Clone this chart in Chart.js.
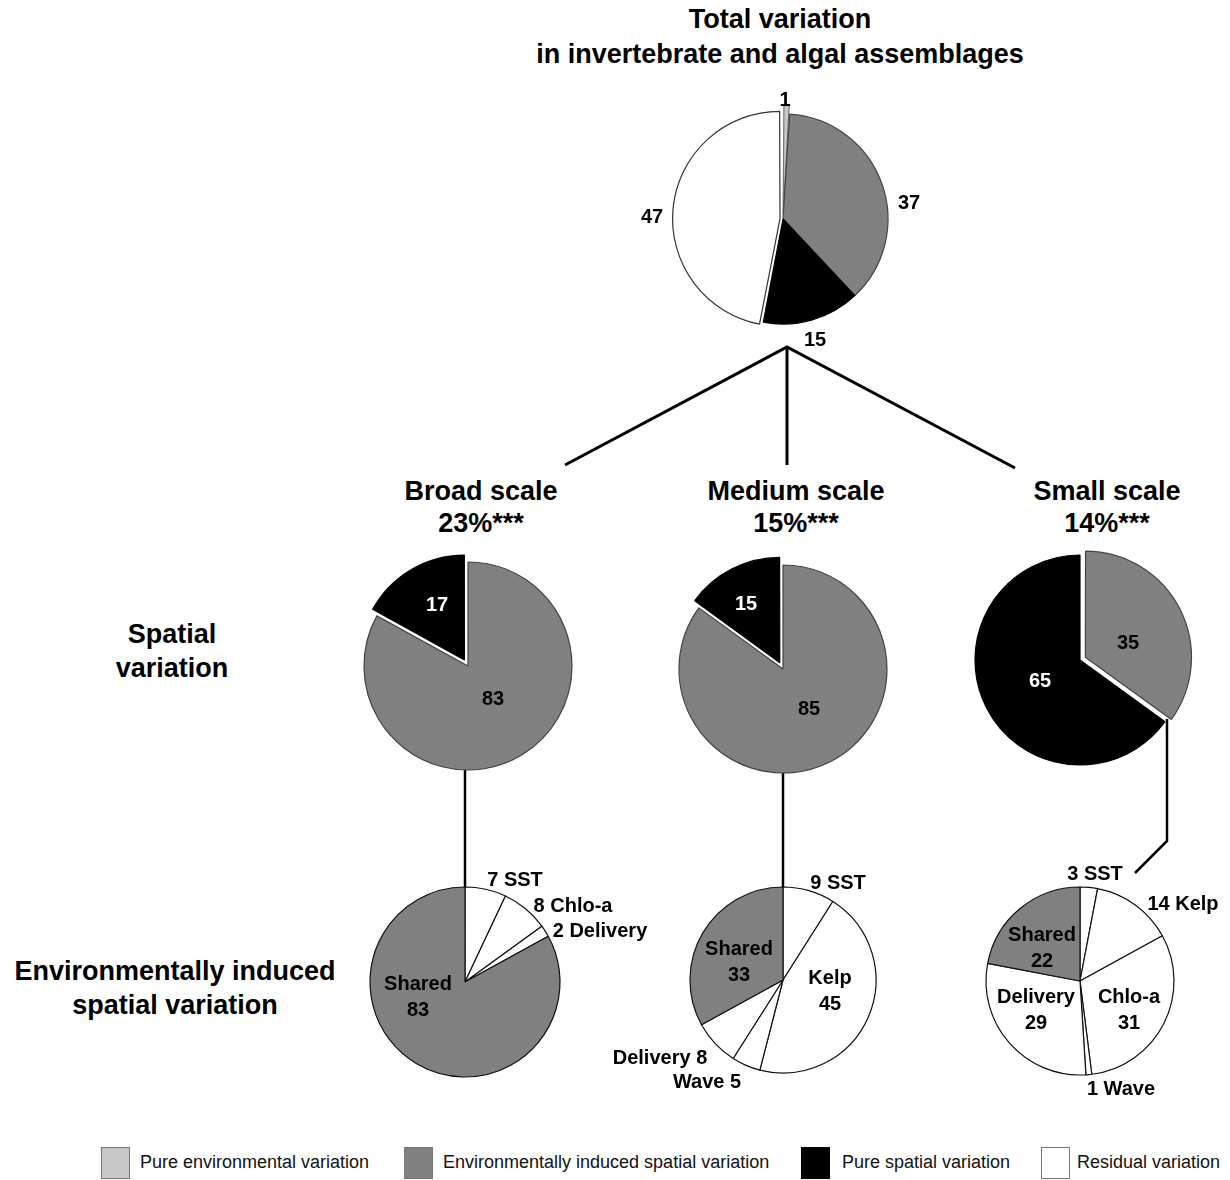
<!DOCTYPE html>
<html>
<head>
<meta charset="utf-8">
<script src="https://cdn.jsdelivr.net/npm/chart.js@4.4.1/dist/chart.umd.min.js"></script>
<style>
    html, body { margin: 0; padding: 0; background: #fff; }
    #stage {
        position: relative;
        width: 1230px;
        height: 1180px;
        overflow: hidden;
        font-family: "Liberation Sans", Arial, Helvetica, sans-serif;
        color: #000;
    }
    #links { position: absolute; left: 0; top: 0; }
    .txt {
        position: absolute;
        transform: translate(-50%, -50%);
        font-weight: bold;
        white-space: nowrap;
        text-align: center;
    }
    .legend-box {
        position: absolute;
        width: 29px;
        height: 32px;
        box-sizing: border-box;
        border: 1px solid #777;
    }
    .legend-text {
        position: absolute;
        font-size: 18px;
        white-space: nowrap;
        color: #111;
    }
</style>
</head>
<body>
<div id="stage">
    <svg id="links" width="1230" height="1180">
        <g stroke="#000" stroke-width="3" fill="none" stroke-linejoin="miter">
            <polyline points="565,465 787,347 1015,468"/>
            <line x1="787" y1="347" x2="787" y2="465"/>
        </g>
        <g stroke="#000" stroke-width="2.5" fill="none">
            <line x1="465" y1="770" x2="465" y2="889"/>
            <line x1="783" y1="772" x2="783" y2="889"/>
            <polyline points="1167,719 1167,841 1135,873"/>
        </g>
    </svg>
</div>
<script>
// ---- data ----
const categories = ['Pure environmental variation', 'Environmentally induced spatial variation', 'Pure spatial variation', 'Residual variation'];
const categoryColors = ['#c8c8c8', '#808080', '#000000', '#ffffff'];
const categoryBorders = ['#777777', '#444444', '#000000', '#333333'];

// total variation, clockwise from 12 o'clock: pure env, env-induced spatial, pure spatial, residual
const totalValues = [1, 37, 15, 47];

const scaleNames = ['Broad scale', 'Medium scale', 'Small scale'];
const scaleTotals = ['23%***', '15%***', '14%***'];

// spatial variation at each scale: [env-induced, pure spatial]
const broadSpatial = [83, 17];
const mediumSpatial = [85, 15];
const smallSpatial = [35, 65];

// environmentally induced spatial variation, clockwise from 12 o'clock
const broadEnvNames = ['SST', 'Chlo-a', 'Delivery', 'Shared'];
const broadEnvValues = [7, 8, 2, 83];
const mediumEnvNames = ['SST', 'Kelp', 'Wave', 'Delivery', 'Shared'];
const mediumEnvValues = [9, 45, 5, 8, 33];
const smallEnvNames = ['SST', 'Kelp', 'Chlo-a', 'Wave', 'Delivery', 'Shared'];
const smallEnvValues = [3, 14, 31, 1, 29, 22];

const stage = document.getElementById('stage');

/**
 * Put one pie chart on its own canvas, centred on (cx, cy)
 */
function makePie(cx, cy, r, values, colors, borders, offsets) {
    const size = 2 * Math.ceil(r + 14);
    const canvas = document.createElement('canvas');
    canvas.width = size;
    canvas.height = size;
    canvas.style.position = 'absolute';
    canvas.style.left = (cx - size / 2) + 'px';
    canvas.style.top = (cy - size / 2) + 'px';
    stage.appendChild(canvas);

    return new Chart(canvas, {
        type: 'pie',
        data: {
            labels: values.map((_, i) => 'slice ' + (i + 1)),
            datasets: [{
                data: values,
                backgroundColor: colors,
                borderColor: borders,
                borderWidth: 1.2,
                offset: offsets || 0
            }]
        },
        options: {
            responsive: false,
            animation: false,
            events: [],
            radius: r,
            layout: { padding: 0 },
            plugins: {
                legend: { display: false },
                tooltip: { enabled: false }
            }
        }
    });
}

function addText(text, x, y, size, color, lineHeight) {
    const el = document.createElement('div');
    el.className = 'txt';
    el.style.left = x + 'px';
    el.style.top = y + 'px';
    el.style.fontSize = size + 'px';
    el.style.lineHeight = (lineHeight || Math.round(size * 1.25)) + 'px';
    el.style.color = color || '#000';
    el.innerHTML = text;
    stage.appendChild(el);
}

// ---- titles ----
addText('Total variation<br>in invertebrate and algal assemblages', 780, 37, 27, '#000', 35);
const scaleX = [481, 796, 1107];
scaleNames.forEach((name, i) => {
    addText(name + '<br>' + scaleTotals[i], scaleX[i], 507, 27, '#000', 32);
});
addText('Spatial<br>variation', 172, 651, 27, '#000', 34);
addText('Environmentally induced<br>spatial variation', 175, 988, 27, '#000', 34);

// ---- total variation pie ----
makePie(783, 219, 105, totalValues, categoryColors, categoryBorders, [20, 0, 0, 12]);
addText(String(totalValues[0]), 785, 99, 20);
addText(String(totalValues[1]), 909, 202, 20);
addText(String(totalValues[2]), 815, 339, 20);
addText(String(totalValues[3]), 652, 216, 20);

// ---- spatial variation pies ----
const spatialColors = [categoryColors[1], categoryColors[2]];
const spatialBorders = ['#444444', '#000000'];
makePie(468, 666, 104, broadSpatial, spatialColors, spatialBorders, [0, 28]);
addText(String(broadSpatial[0]), 493, 698, 20);
addText(String(broadSpatial[1]), 437, 604, 20, '#fff');

makePie(783, 669, 104, mediumSpatial, spatialColors, spatialBorders, [0, 28]);
addText(String(mediumSpatial[0]), 809, 708, 20);
addText(String(mediumSpatial[1]), 746, 603, 20, '#fff');

makePie(1080, 660, 105, smallSpatial, spatialColors, spatialBorders, [24, 0]);
addText(String(smallSpatial[0]), 1128, 642, 20);
addText(String(smallSpatial[1]), 1040, 680, 20, '#fff');

// ---- environmentally induced spatial variation pies ----
function envColors(names) {
    return names.map(n => n === 'Shared' ? categoryColors[1] : categoryColors[3]);
}
function envBorders(names) {
    return names.map(() => '#111111');
}

makePie(465, 982, 95, broadEnvValues, envColors(broadEnvNames), envBorders(broadEnvNames));
addText(broadEnvValues[0] + ' ' + broadEnvNames[0], 515, 879, 20);
addText(broadEnvValues[1] + ' ' + broadEnvNames[1], 573, 905, 20);
addText(broadEnvValues[2] + ' ' + broadEnvNames[2], 600, 930, 20);
addText(broadEnvNames[3] + '<br>' + broadEnvValues[3], 418, 996, 20, '#000', 26);

makePie(783, 980, 93, mediumEnvValues, envColors(mediumEnvNames), envBorders(mediumEnvNames));
addText(mediumEnvValues[0] + ' ' + mediumEnvNames[0], 838, 882, 20);
addText(mediumEnvNames[1] + '<br>' + mediumEnvValues[1], 830, 990, 20, '#000', 26);
addText(mediumEnvNames[2] + ' ' + mediumEnvValues[2], 707, 1081, 20);
addText(mediumEnvNames[3] + ' ' + mediumEnvValues[3], 660, 1057, 20);
addText(mediumEnvNames[4] + '<br>' + mediumEnvValues[4], 739, 961, 20, '#000', 26);

makePie(1080, 981, 94, smallEnvValues, envColors(smallEnvNames), envBorders(smallEnvNames));
addText(smallEnvValues[0] + ' ' + smallEnvNames[0], 1095, 873, 20);
addText(smallEnvValues[1] + ' ' + smallEnvNames[1], 1183, 903, 20);
addText(smallEnvNames[2] + '<br>' + smallEnvValues[2], 1129, 1009, 20, '#000', 26);
addText(smallEnvValues[3] + ' ' + smallEnvNames[3], 1121, 1088, 20);
addText(smallEnvNames[4] + '<br>' + smallEnvValues[4], 1036, 1009, 20, '#000', 26);
addText(smallEnvNames[5] + '<br>' + smallEnvValues[5], 1042, 947, 20, '#000', 26);

// ---- legend ----
const legendBoxX = [101, 404, 801, 1041];
const legendTextX = [140, 443, 842, 1077];
categories.forEach((name, i) => {
    const box = document.createElement('div');
    box.className = 'legend-box';
    box.style.left = legendBoxX[i] + 'px';
    box.style.top = '1147px';
    box.style.background = categoryColors[i];
    box.style.borderColor = i === 2 ? '#000' : '#777';
    stage.appendChild(box);

    const label = document.createElement('div');
    label.className = 'legend-text';
    label.style.left = legendTextX[i] + 'px';
    label.style.top = '1152px';
    label.textContent = name;
    stage.appendChild(label);
});
</script>
</body>
</html>
